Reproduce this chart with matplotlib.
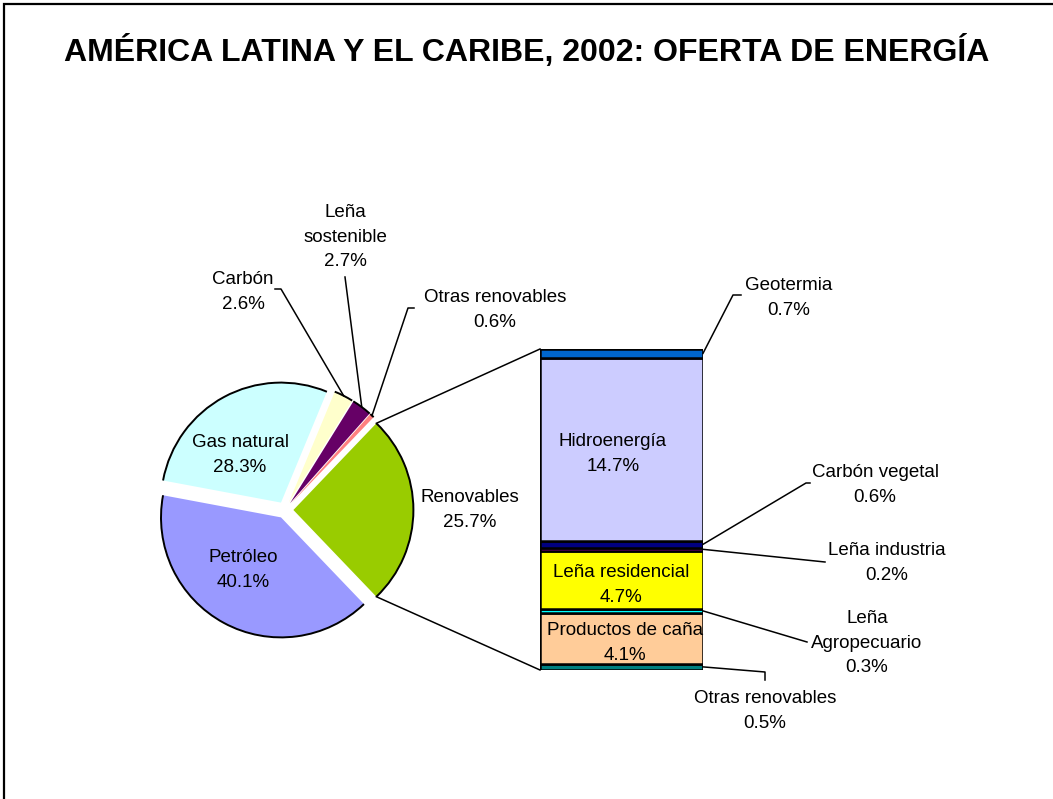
import numpy as np
import matplotlib
matplotlib.use('Agg')
import matplotlib.pyplot as plt
from matplotlib.patches import Arc, Rectangle

plt.rcParams['font.family'] = ['Liberation Sans', 'DejaVu Sans']

# Pie data (counter-clockwise from Renovables, which sits on the right)
pie_labels = ['Renovables', 'Otras renovables', 'Leña\nsostenible', 'Carbón', 'Gas natural', 'Petróleo']
pie_values = [25.7, 0.6, 2.7, 2.6, 28.3, 40.1]
pie_colors = ['#99CC00', '#FF8080', '#660066', '#FFFFCC', '#CCFFFF', '#9999FF']

# Breakdown of Renovables (top to bottom)
bar_labels = ['Geotermia', 'Hidroenergía', 'Carbón vegetal', 'Leña industria',
              'Leña residencial', 'Leña\nAgropecuario', 'Productos de caña', 'Otras renovables']
bar_values = [0.7, 14.7, 0.6, 0.2, 4.7, 0.3, 4.1, 0.5]
bar_colors = ['#0066CC', '#CCCCFF', '#000080', '#FF00FF',
              '#FFFF00', '#00FFFF', '#FFCC99', '#008080']

W, H = 1053, 799
fig = plt.figure(figsize=(W / 100, H / 100), dpi=100)

# outer frame (runs off right and bottom)
fig.patches.append(Rectangle((4 / W, -0.5), 2, 1.5 - 4 / H, transform=fig.transFigure,
                             fill=False, lw=1.6, ec='black'))

# pie axes: centre (285, 510) px, radius 120 px
cx, cy, R = 285, 510, 120
ax_pie = fig.add_axes([(cx - 150) / W, (H - cy - 150) / H, 300 / W, 300 / H])
start = -pie_values[0] / sum(pie_values) * 360 / 2
wedges, _ = ax_pie.pie(pie_values, colors=pie_colors, startangle=start,
                       explode=[0.07] * len(pie_values), counterclock=True,
                       wedgeprops=dict(linewidth=0))
for w in wedges:
    ax_pie.add_patch(Arc(w.center, 2 * w.r, 2 * w.r, theta1=w.theta1, theta2=w.theta2,
                         color='black', lw=1.4))
ax_pie.set_xlim(-1.25, 1.25)
ax_pie.set_ylim(-1.25, 1.25)
ax_pie.axis('off')

# stacked bar axes
bx0, bx1, by0, by1 = 540, 703, 349, 670
ax_bar = fig.add_axes([bx0 / W, (H - by1) / H, (bx1 - bx0) / W, (by1 - by0) / H])
bottom = 0
for v, c in zip(bar_values[::-1], bar_colors[::-1]):
    ax_bar.bar(0.5, v, bottom=bottom, width=1, color=c, edgecolor='black', lw=1.8)
    bottom += v
ax_bar.set_xlim(0, 1)
ax_bar.set_ylim(0, sum(bar_values))
ax_bar.axis('off')

# overlay in pixel coords for text and leader lines
ov = fig.add_axes([0, 0, 1, 1], zorder=5)
ov.set_xlim(0, W)
ov.set_ylim(H, 0)
ov.axis('off')


def to_px(ax, x, y):
    return ov.transData.inverted().transform(ax.transData.transform((x, y)))


fs = 13.5
ls = 1.55
ov.text(W / 2, 51, 'AMÉRICA LATINA Y EL CARIBE, 2002: OFERTA DE ENERGÍA',
        ha='center', va='center', fontsize=23, fontweight='bold')


def pct(v):
    return f'{v:.1f}%'


# pie labels
inside = {4: (240, 455), 5: (243, 570)}
outside = {0: (470, 510), 1: (495, 310), 2: (345, 237), 3: (243, 292)}
for i, (x, y) in {**inside, **outside}.items():
    ov.text(x, y, f'{pie_labels[i]}\n{pct(pie_values[i])}', ha='center', va='center',
            fontsize=fs, linespacing=ls)

# leader lines for small pie slices: label-side points in px
pie_leaders = {3: [(275, 289), (281, 289)], 2: [(345, 277)], 1: [(414, 308), (408, 308)]}
for i, pts in pie_leaders.items():
    w = wedges[i]
    mid = np.radians((w.theta1 + w.theta2) / 2)
    end = to_px(ax_pie, w.center[0] + w.r * np.cos(mid), w.center[1] + w.r * np.sin(mid))
    xs = [p[0] for p in pts] + [end[0]]
    ys = [p[1] for p in pts] + [end[1]]
    ov.plot(xs, ys, color='black', lw=1.1)

# connectors from Renovables wedge to the bar
rw = wedges[0]
top_p = to_px(ax_pie, rw.center[0] + rw.r * np.cos(np.radians(rw.theta2)),
              rw.center[1] + rw.r * np.sin(np.radians(rw.theta2)))
bot_p = to_px(ax_pie, rw.center[0] + rw.r * np.cos(np.radians(rw.theta1)),
              rw.center[1] + rw.r * np.sin(np.radians(rw.theta1)))
bar_tl = to_px(ax_bar, 0, sum(bar_values))
bar_bl = to_px(ax_bar, 0, 0)
ov.plot([top_p[0], bar_tl[0]], [top_p[1], bar_tl[1]], color='black', lw=1.1)
ov.plot([bot_p[0], bar_bl[0]], [bot_p[1], bar_bl[1]], color='black', lw=1.1)

# bar labels
tops = np.cumsum([0] + bar_values[:-1])
mids = sum(bar_values) - (tops + np.array(bar_values) / 2)
bar_text = {0: (789, 298), 1: (613, 454), 2: (875, 485), 3: (887, 563),
            4: (621, 585), 5: (867, 643), 6: (625, 643), 7: (765, 711)}
for i, (x, y) in bar_text.items():
    ov.text(x, y, f'{bar_labels[i]}\n{pct(bar_values[i])}', ha='center', va='center',
            fontsize=fs, linespacing=ls)

bar_leaders = {0: [(741, 295), (733, 295)], 2: [(810, 483), (806, 483)],
               3: [(825, 562)], 5: [(807, 642)], 7: [(765, 680), (765, 672)]}
for i, pts in bar_leaders.items():
    end = to_px(ax_bar, 1, mids[i])
    xs = [p[0] for p in pts] + [end[0]]
    ys = [p[1] for p in pts] + [end[1]]
    ov.plot(xs, ys, color='black', lw=1.1)

fig.savefig('out.png', dpi=100)
